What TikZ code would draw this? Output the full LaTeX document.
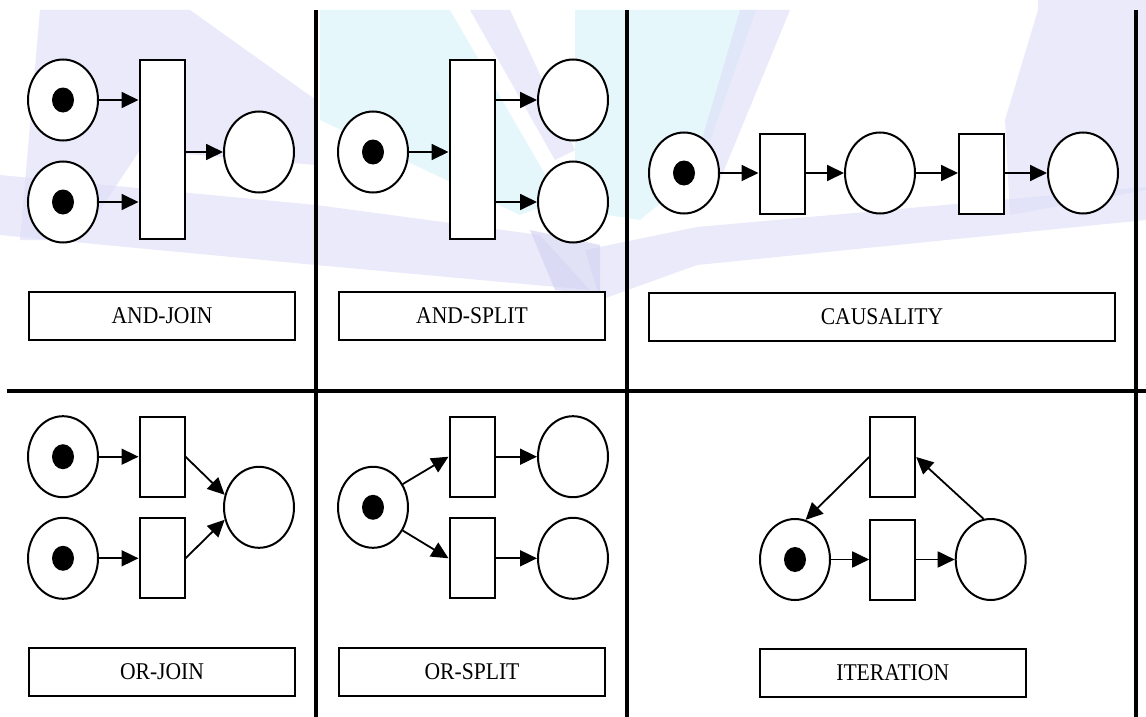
\documentclass[tikz,border=0pt]{standalone}
\usepackage{fontspec}
\setmainfont{Liberation Serif}
\usepackage{graphicx}
\usepackage{tikz}
\usetikzlibrary{shapes.geometric,arrows.meta}
\definecolor{wmlav}{RGB}{221,221,247}
\definecolor{wmblue}{RGB}{208,208,242}
\definecolor{wmcyan}{RGB}{214,243,251}
\tikzstyle{place}      = [ellipse,draw,line width=2pt,fill=white,minimum width=70pt,minimum height=81pt,inner sep=0]
\tikzstyle{token}      = [ellipse,fill=black,minimum width=22pt,minimum height=25pt,inner sep=0]
\tikzstyle{trans}      = [rectangle,draw,line width=2pt,fill=white,minimum width=45pt,minimum height=80pt,inner sep=0]
\tikzstyle{name box}   = [rectangle,draw,line width=2pt,fill=white,minimum width=266pt,minimum height=48pt,inner sep=0]
\tikzstyle{flow}       = [line width=1.8pt,-{Triangle[length=17pt,width=16pt]}]
\tikzstyle{grid line}  = [line width=3.5pt]
\newcommand{\netname}[1]{\scalebox{0.9}[1]{#1}}

\begin{document}
\begin{tikzpicture}[x=1pt, y=-1pt,
                    font=\fontsize{24}{28}\selectfont
                    ]
\fill[white] (0,0) rectangle (1146,717);
\useasboundingbox (0,0) rectangle (1146,717);

    % faint logo behind the upper row
    \begin{scope}[opacity=0.6]
    \fill[wmlav]  (40,10) -- (190,10) -- (316,100) -- (316,165) -- (140,150) -- (80,240) -- (20,240) -- cycle;
    \fill[wmlav]  (0,175) -- (316,205) -- (540,235) -- (590,290) -- (316,265) -- (0,235) -- cycle;
    \fill[wmcyan] (320,10) -- (450,10) -- (560,200) -- (520,215) -- (320,120) -- cycle;
    \fill[wmlav]  (470,10) -- (510,10) -- (575,150) -- (555,160) -- cycle;
    \fill[wmcyan] (575,10) -- (756,10) -- (700,170) -- (640,220) -- (575,210) -- cycle;
    \fill[wmlav]  (740,10) -- (790,10) -- (720,180) -- (690,180) -- cycle;
    \fill[wmlav]  (1038,0) -- (1146,0) -- (1146,190) -- (1010,215) -- (1005,120) -- (1038,10) -- cycle;
    \fill[wmlav]  (697,227) -- (1146,187) -- (1146,220) -- (697,265) -- (600,300) -- (585,250) -- cycle;
    \fill[wmblue] (530,230) -- (600,245) -- (600,295) -- (555,290) -- cycle;
    \end{scope}

    % frame
    \draw[grid line] (316,10) -- (316,717);
    \draw[grid line] (627,10) -- (627,717);
    \draw[grid line] (1136,10) -- (1136,717);
    \draw[grid line] (7,391) -- (1146,391);

    % AND-JOIN
    \node[place] (aj1) at (63,100) {};
    \node[token] (aj1k) at (aj1) {};
    \node[place] (aj2) at (63,202) {};
    \node[token] (aj2k) at (aj2) {};
    \node[trans, minimum height=179pt] (ajt) at (162,149.5) {};
    \node[place] (aj3) at (259,152) {};
    \draw[flow] (aj1) -- (aj1 -| ajt.west);
    \draw[flow] (aj2) -- (aj2 -| ajt.west);
    \draw[flow] (ajt.east |- aj3) -- (aj3);
    \node[name box] (ajn) at (162,316) {\netname{AND-JOIN}};

    % AND-SPLIT
    \node[place] (as1) at (373,152) {};
    \node[token] (as1k) at (as1) {};
    \node[trans, minimum height=179pt] (ast) at (472,149.5) {};
    \node[place] (as2) at (573,100) {};
    \node[place] (as3) at (573,202) {};
    \draw[flow] (as1) -- (as1 -| ast.west);
    \draw[flow] (ast.east |- as2) -- (as2);
    \draw[flow] (ast.east |- as3) -- (as3);
    \node[name box] (asn) at (472,316) {\netname{AND-SPLIT}};

    % CAUSALITY
    \node[place] (c1) at (684,173) {};
    \node[token] (c1k) at (c1) {};
    \node[trans] (ct1) at (782,173.5) {};
    \node[place] (c2) at (880,173) {};
    \node[trans] (ct2) at (981.5,173.5) {};
    \node[place] (c3) at (1083,173) {};
    \draw[flow] (c1) -- (c1 -| ct1.west);
    \draw[flow] (ct1.east |- c2) -- (c2);
    \draw[flow] (c2) -- (c2 -| ct2.west);
    \draw[flow] (ct2.east |- c3) -- (c3);
    \node[name box, minimum width=466pt] (cn) at (882,317) {\netname{CAUSALITY}};

    % OR-JOIN
    \node[place] (oj1) at (63,456.7) {};
    \node[token] (oj1k) at (oj1) {};
    \node[place] (oj2) at (63,558.3) {};
    \node[token] (oj2k) at (oj2) {};
    \node[trans] (ojt1) at (162,456.7) {};
    \node[trans] (ojt2) at (162,558.3) {};
    \node[place] (oj3) at (259,507.3) {};
    \draw[flow] (oj1) -- (oj1 -| ojt1.west);
    \draw[flow] (oj2) -- (oj2 -| ojt2.west);
    \draw[flow] (ojt1.east) -- (oj3.160);
    \draw[flow] (ojt2.east) -- (oj3.200);
    \node[name box] (ojn) at (162,672) {\netname{OR-JOIN}};

    % OR-SPLIT
    \node[place] (os1) at (373,507.3) {};
    \node[token] (os1k) at (os1) {};
    \node[trans] (ost1) at (472,456.7) {};
    \node[trans] (ost2) at (472,558.3) {};
    \node[place] (os2) at (573,456.7) {};
    \node[place] (os3) at (573,558.3) {};
    \draw[flow] (os1.38) -- (ost1.west);
    \draw[flow] (os1.322) -- (ost2.west);
    \draw[flow] (ost1.east) -- (os2);
    \draw[flow] (ost2.east) -- (os3);
    \node[name box] (osn) at (472,672) {\netname{OR-SPLIT}};

    % ITERATION
    \node[trans] (it1) at (892.7,457) {};
    \node[trans] (it2) at (892.7,559.5) {};
    \node[place] (ip1) at (795,559.5) {};
    \node[token] (ip1k) at (ip1) {};
    \node[place] (ip2) at (990.7,559.5) {};
    \draw[flow] (ip1) -- (it2.west);
    \draw[flow] (it2.east) -- (ip2);
    \draw[flow] (ip2.100) -- (it1.east);
    \draw[flow] (it1.west) -- (ip1.75);
    \node[name box] (in) at (892.7,673) {\netname{ITERATION}};

\end{tikzpicture}
\end{document}
